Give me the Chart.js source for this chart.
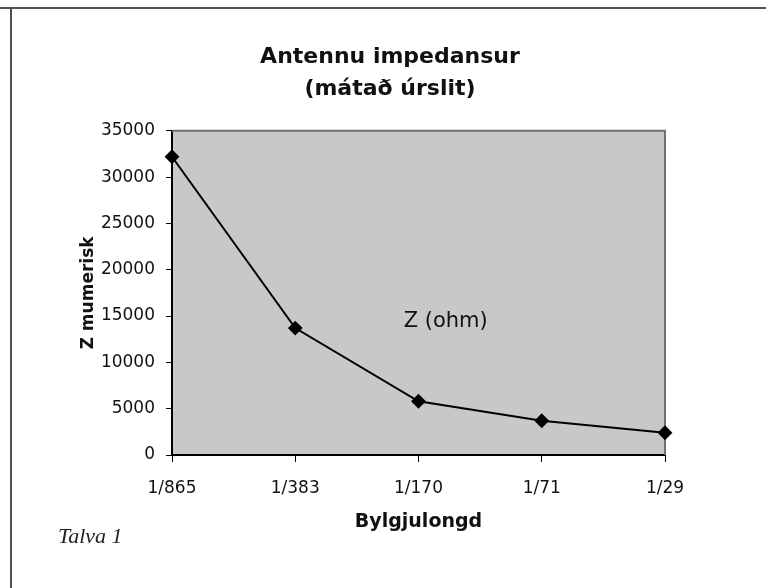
<!DOCTYPE html>
<html>
<head>
<meta charset="utf-8">
<script src="https://cdn.jsdelivr.net/npm/chart.js@4/dist/chart.umd.min.js"></script>
<style>
  html, body { margin: 0; padding: 0; background: #ffffff; }
  #wrap { width: 766px; height: 588px; position: relative; }
</style>
</head>
<body>
<div id="wrap"><canvas id="c" width="766" height="588"></canvas></div>
<script>
// ---- data ----
const categories = ['1/865', '1/383', '1/170', '1/71', '1/29'];
const impedance = [32200, 13700, 5800, 3700, 2400];
const seriesName = 'Z (ohm)';
const chartTitle = ['Antennu impedansur', '(mátað úrslit)'];
const xTitle = 'Bylgjulongd';
const yTitle = 'Z mumerisk';
const yTicks = { min: 0, max: 35000, step: 5000 };
const caption = 'Talva 1';

const SANS = '"DejaVu Sans", sans-serif';

const decor = {
  id: 'decor',
  beforeDraw(chart) {
    const { ctx, chartArea: a } = chart;
    ctx.save();
    // outer frame (top and left edges)
    ctx.strokeStyle = '#505050';
    ctx.lineWidth = 2;
    ctx.beginPath();
    ctx.moveTo(0, 8); ctx.lineTo(766, 8);
    ctx.moveTo(11, 8); ctx.lineTo(11, 588);
    ctx.stroke();
    // plot background
    ctx.fillStyle = '#c8c8c8';
    ctx.fillRect(a.left, a.top, a.right - a.left, a.bottom - a.top);
    ctx.restore();
  },
  beforeDatasetsDraw(chart) {
    const { ctx, chartArea: a } = chart;
    ctx.save();
    ctx.strokeStyle = '#707070';
    ctx.lineWidth = 2;
    ctx.beginPath();
    ctx.moveTo(a.left, a.top); ctx.lineTo(a.right, a.top); ctx.lineTo(a.right, a.bottom);
    ctx.stroke();
    // series label inside plot
    ctx.fillStyle = '#111';
    ctx.font = '21px ' + SANS;
    ctx.textAlign = 'left';
    ctx.textBaseline = 'alphabetic';
    ctx.fillText(seriesName, a.left + (a.right - a.left) * 0.47, a.top + (a.bottom - a.top) * 0.604);
    // caption
    ctx.font = 'italic 22px "Liberation Serif", serif';
    ctx.fillStyle = '#222';
    ctx.fillText(caption, 58, 543);
    ctx.restore();
  }
};

new Chart(document.getElementById('c'), {
  type: 'line',
  data: {
    labels: categories,
    datasets: [{
      label: seriesName,
      data: impedance,
      borderColor: '#000',
      borderWidth: 2,
      pointStyle: 'rectRot',
      pointRadius: 6,
      pointBackgroundColor: '#000',
      pointBorderColor: '#000',
      tension: 0,
      clip: false
    }]
  },
  options: {
    responsive: false,
    animation: false,
    events: [],
    layout: { padding: { left: 14, right: 0, top: 0, bottom: 0 } },
    plugins: {
      legend: { display: false },
      tooltip: { enabled: false },
      title: {
        display: true,
        text: chartTitle,
        color: '#111',
        font: { family: SANS, size: 22, weight: 'bold', lineHeight: 1.45 },
        padding: { top: 41, bottom: 26 }
      }
    },
    scales: {
      x: {
        type: 'category',
        offset: false,
        afterFit(s) { s.height = 133; },
        grid: { display: true, drawOnChartArea: false, drawTicks: true, tickLength: 7, color: '#000', lineWidth: 1 },
        border: { display: true, color: '#000', width: 2 },
        ticks: { color: '#111', font: { family: SANS, size: 17 }, padding: 16, maxRotation: 0, autoSkip: false },
        title: { display: true, text: xTitle, color: '#111', font: { family: SANS, size: 19, weight: 'bold' }, padding: { top: 0, bottom: 55 } }
      },
      y: {
        min: yTicks.min,
        max: yTicks.max,
        afterFit(s) { s.width = 158; },
        grid: { display: true, drawOnChartArea: false, drawTicks: true, tickLength: 6, color: '#000', lineWidth: 1 },
        border: { display: true, color: '#000', width: 2 },
        ticks: { stepSize: yTicks.step, color: '#111', font: { family: SANS, size: 17 }, padding: 11,
                 callback: (v) => String(v) },
        title: { display: true, text: yTitle, color: '#111', font: { family: SANS, size: 17, weight: 'bold' }, padding: { top: 64, bottom: 0 } }
      },
      y2: {
        position: 'right',
        display: true,
        min: yTicks.min,
        max: yTicks.max,
        afterFit(s) { s.width = 101; },
        grid: { display: false },
        border: { display: false },
        ticks: { display: false }
      }
    }
  },
  plugins: [decor]
});
</script>
</body>
</html>
